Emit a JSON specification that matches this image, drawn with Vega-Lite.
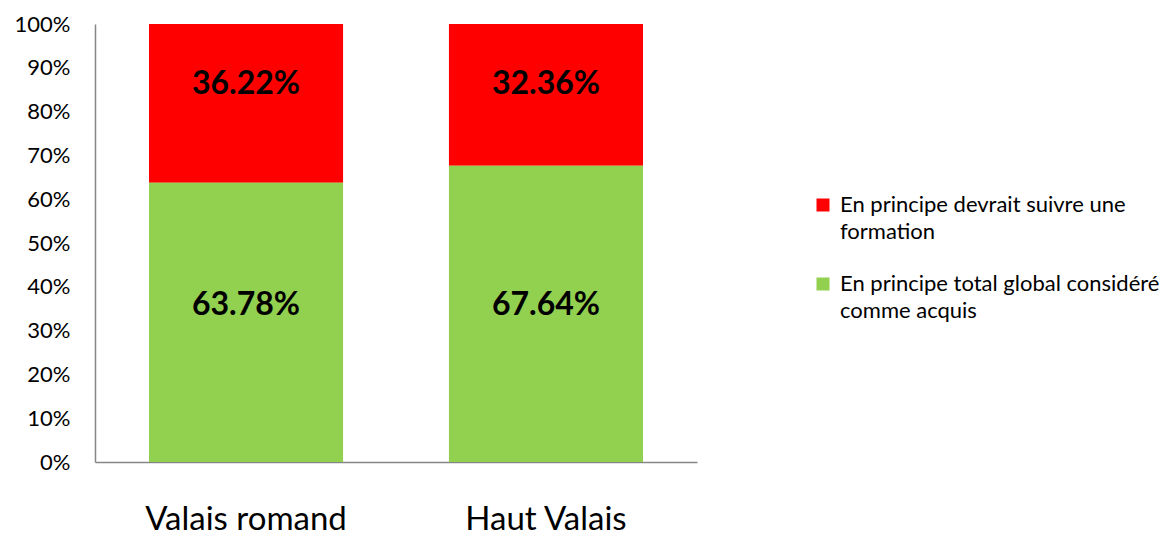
{
  "$schema": "https://vega.github.io/schema/vega-lite/v6.json",
  "width": 602,
  "height": 438,
  "autosize": {"type": "none"},
  "padding": {"left": 95, "top": 24, "right": 473, "bottom": 73},
  "background": "white",
  "config": {
    "view": {"stroke": null},
    "font": "Lato",
    "axis": {"grid": false, "ticks": false, "domainColor": "#868686", "domainWidth": 1.5, "labelColor": "#000000", "labelFont": "Lato", "title": null}
  },
  "data": {
    "values": [
      {"region": "Valais romand", "serie": "En principe devrait suivre une formation", "value": 0.3622},
      {"region": "Valais romand", "serie": "En principe total global considéré comme acquis", "value": 0.6378},
      {"region": "Haut Valais", "serie": "En principe devrait suivre une formation", "value": 0.3236},
      {"region": "Haut Valais", "serie": "En principe total global considéré comme acquis", "value": 0.6764}
    ]
  },
  "encoding": {
    "x": {
      "field": "region", "type": "nominal", "sort": ["Valais romand", "Haut Valais"],
      "scale": {"paddingInner": 0.353, "paddingOuter": 0.18},
      "axis": {"labelAngle": 0, "labelFontSize": 33, "labelPadding": 41, "labelLimit": 400}
    }
  },
  "layer": [
    {
      "mark": {"type": "bar"},
      "encoding": {
        "y": {"field": "value", "type": "quantitative", "stack": "zero",
          "scale": {"domain": [0, 1], "nice": false},
          "axis": {"format": ".0%", "values": [0, 0.1, 0.2, 0.3, 0.4, 0.5, 0.6, 0.7, 0.8, 0.9, 1], "labelFontSize": 22, "labelPadding": 25}},
        "color": {
          "field": "serie", "type": "nominal",
          "scale": {"domain": ["En principe devrait suivre une formation", "En principe total global considéré comme acquis"], "range": ["#FF0000", "#92D050"]},
          "legend": {
            "title": null, "orient": "none", "legendX": 717, "legendY": 170,
            "symbolType": "square", "symbolSize": 169, "symbolStrokeWidth": 0,
            "labelFont": "Lato", "labelFontSize": 22, "labelColor": "#000000", "labelLimit": 400,
            "rowPadding": 30, "labelOffset": 6,
            "labelExpr": "datum.label == 'En principe devrait suivre une formation' ? ['En principe devrait suivre une', 'formation'] : ['En principe total global considéré', 'comme acquis']",
            "encode": {"labels": {"update": {"lineHeight": {"value": 27}}}}
          }
        },
        "order": {"field": "serie", "sort": "descending"}
      }
    },
    {
      "transform": [
        {"stack": "value", "groupby": ["region"], "sort": [{"field": "serie", "order": "descending"}], "as": ["y0", "y1"]},
        {"filter": "datum.serie == 'En principe total global considéré comme acquis'"}
      ],
      "mark": {"type": "text", "font": "Lato", "fontWeight": "bold", "fontSize": 32, "color": "#000000", "baseline": "middle", "dy": -157},
      "encoding": {
        "y": {"field": "y0", "type": "quantitative"},
        "text": {"field": "value", "type": "quantitative", "format": ".2%"}
      }
    },
    {
      "transform": [
        {"stack": "value", "groupby": ["region"], "sort": [{"field": "serie", "order": "descending"}], "as": ["y0", "y1"]},
        {"filter": "datum.serie == 'En principe devrait suivre une formation'"}
      ],
      "mark": {"type": "text", "font": "Lato", "fontWeight": "bold", "fontSize": 32, "color": "#000000", "baseline": "middle", "dy": 60},
      "encoding": {
        "y": {"field": "y1", "type": "quantitative"},
        "text": {"field": "value", "type": "quantitative", "format": ".2%"}
      }
    }
  ]
}
